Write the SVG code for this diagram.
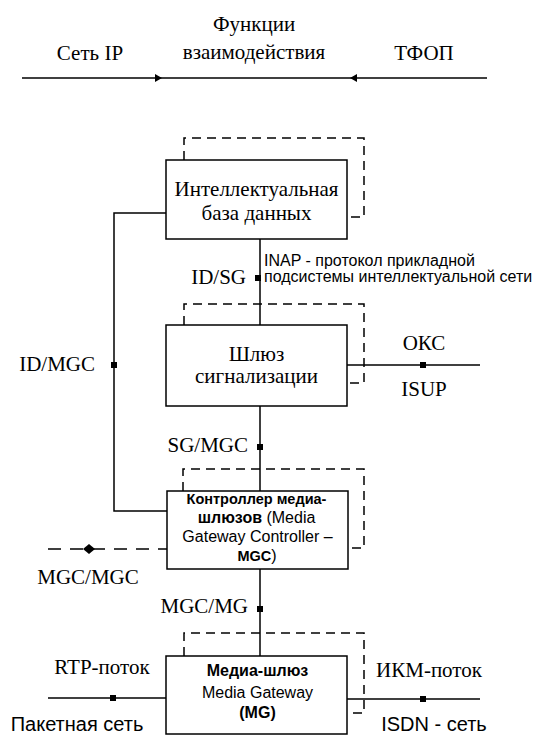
<svg xmlns="http://www.w3.org/2000/svg" width="534" height="736" viewBox="0 0 534 736">
<style>
.ln{fill:none;stroke:#000;stroke-width:1.5}
.box{fill:#fff;stroke:#000;stroke-width:1.5}
.dash{fill:none;stroke:#000;stroke-width:1.5;stroke-dasharray:9 6}
.dash2{fill:none;stroke:#000;stroke-width:1.5;stroke-dasharray:13 9}
.sq{fill:#000}
.s{font-family:"Liberation Serif","Times New Roman",serif;font-size:21px;fill:#000}
.a{font-family:"Liberation Sans",Arial,sans-serif;font-size:16px;fill:#000}
.big{font-size:20px}
.b{font-weight:bold}
.sb{font-weight:bold;font-size:14.5px}
.m{text-anchor:middle}
.e{text-anchor:end}
</style>
<rect width="534" height="736" fill="#fff"/>
<g id="header">
<text class="s m" x="254" y="31">Функции</text>
<text class="s m" x="254" y="59">взаимодействия</text>
<text class="s m" x="90" y="60">Сеть IP</text>
<text class="s m" x="424" y="60">ТФОП</text>
<line class="ln" x1="22" y1="78" x2="487" y2="78"/>
<polygon points="162,78 155,74 155,82" fill="#000"/>
<polygon points="350,78 357,74 357,82" fill="#000"/>
</g>
<g id="connectors">
<path class="ln" d="M260,239 V656"/>
<path class="ln" d="M166,213 H114 V511 H167"/>
<path class="ln" d="M347,365 H480"/>
<path class="ln" d="M48,698 H166"/>
<path class="ln" d="M347,699 H480"/>
<path class="dash2" d="M48,549 H167"/>
<rect class="sq" x="255" y="275" width="6" height="6"/>
<rect class="sq" x="111" y="362" width="6" height="6"/>
<rect class="sq" x="257" y="444" width="6" height="6"/>
<rect class="sq" x="257" y="606" width="6" height="6"/>
<rect class="sq" x="420" y="362" width="6" height="6"/>
<rect class="sq" x="110" y="695" width="6" height="6"/>
<rect class="sq" x="420" y="696" width="6" height="6"/>
<polygon points="83,549 89,544 95,549 89,554" fill="#000"/>
<text class="s e" x="246" y="284">ID/SG</text>
<text class="a" x="264" y="266">INAP - протокол прикладной</text>
<text class="a" x="264" y="282">подсистемы интеллектуальной сети</text>
<text class="s e" x="95" y="371">ID/MGC</text>
<text class="s m" x="424" y="350">ОКС</text>
<text class="s m" x="424" y="396">ISUP</text>
<text class="s e" x="248" y="452">SG/MGC</text>
<text class="s m" x="88" y="584">MGC/MGC</text>
<text class="s e" x="248" y="613">MGC/MG</text>
<text class="s m" x="102" y="674">RTP-поток</text>
<text class="s m" x="429" y="677">ИКМ-поток</text>
<text class="a big m" x="77" y="731">Пакетная сеть</text>
<text class="a big m" x="434" y="731">ISDN - сеть</text>
</g>
<g id="id">
<path class="dash" d="M184,160 V138 H364 V217 H347"/>
<rect class="box" x="166" y="160" width="181" height="79"/>
<text class="s m" x="256.5" y="196">Интеллектуальная</text>
<text class="s m" x="256.5" y="220">база данных</text>
</g>
<g id="sg">
<path class="dash" d="M184,325 V304 H364 V383 H347"/>
<rect class="box" x="166" y="325" width="181" height="81"/>
<text class="s m" x="256.5" y="361">Шлюз</text>
<text class="s m" x="256.5" y="383">сигнализации</text>
</g>
<g id="mgc">
<path class="dash" d="M183,491 V469 H364 V548 H348"/>
<rect class="box" x="167" y="491" width="181" height="78"/>
<text class="a m" x="256.5" y="504"><tspan class="sb">Контроллер медиа-</tspan></text>
<text class="a m" x="256.5" y="523"><tspan class="b">шлюзов</tspan> (Media</text>
<text class="a m" x="257.5" y="542">Gateway Controller –</text>
<text class="a m" x="257" y="561"><tspan class="sb">MGC</tspan>)</text>
</g>
<g id="mg">
<path class="dash" d="M184,656 V633 H364 V713 H347"/>
<rect class="box" x="166" y="656" width="181" height="78"/>
<text class="a m b" x="257.5" y="676">Медиа-шлюз</text>
<text class="a m" x="257.5" y="698">Media Gateway</text>
<text class="a m b" x="257.5" y="718">(MG)</text>
</g>
</svg>
